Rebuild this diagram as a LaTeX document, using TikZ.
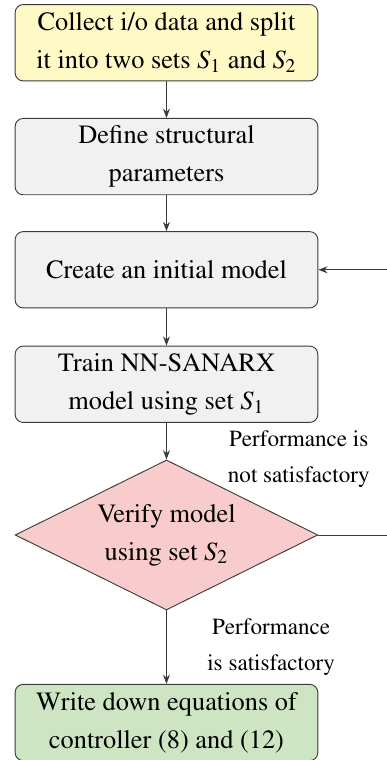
\documentclass[tikz,border=0pt]{standalone}
\usepackage[T1]{fontenc}
\usepackage{mathptmx}
\usetikzlibrary{shapes.geometric,arrows.meta}

\definecolor{startfill}{RGB}{255,249,198}
\definecolor{stepfill}{RGB}{241,241,241}
\definecolor{checkfill}{RGB}{248,204,204}
\definecolor{endfill}{RGB}{206,229,196}
\definecolor{edgegray}{RGB}{60,60,60}

\begin{document}
\begin{tikzpicture}[
    stepbox/.style={draw=edgegray, rounded corners=3.5pt, align=center,
        minimum width=4.6cm, minimum height=1.16cm, inner sep=2pt,
        font=\fontsize{11.4}{16.4}\selectfont},
    checkbox/.style={draw=edgegray, diamond, aspect=2, align=center,
        minimum width=4.6cm, minimum height=2.28cm, inner sep=0pt,
        fill=checkfill, font=\fontsize{11.4}{16.4}\selectfont},
    flow/.style={draw=edgegray, -{Stealth[length=4pt,width=3pt]}},
    note/.style={align=center, font=\fontsize{10}{15.6}\selectfont}
]
    \useasboundingbox (0,0) rectangle (5.87,-11.55);

    % Define the positions of the steps
    \coordinate (collectPos) at (2.53, -0.65);
    \coordinate (definePos) at (2.53, -2.38);
    \coordinate (createPos) at (2.53, -4.10);
    \coordinate (trainPos) at (2.53, -5.84);
    \coordinate (verifyPos) at (2.53, -8.13);
    \coordinate (writePos) at (2.53, -10.98);

    % Draw the steps
    \node[stepbox, fill=startfill] (collect) at (collectPos) {Collect i/o data and split\\it into two sets $S_1$ and $S_2$};
    \node[stepbox, fill=stepfill] (define) at (definePos) {Define structural\\parameters};
    \node[stepbox, fill=stepfill] (create) at (createPos) {Create an initial model};
    \node[stepbox, fill=stepfill] (train) at (trainPos) {Train NN-SANARX\\model using set $S_1$};
    \node[checkbox] (verify) at (verifyPos) {Verify model\\using set $S_2$};
    \node[stepbox, fill=endfill] (write) at (writePos) {Write down equations of\\controller (8) and (12)};

    % Draw the labels
    \node[note] (notok) at (4.54, -6.98) {Performance is\\not satisfactory};
    \node[note] (ok) at (4.12, -9.83) {Performance\\is satisfactory};

    % Draw the lines
    \draw[flow] (collect) -- (define);
    \draw[flow] (define) -- (create);
    \draw[flow] (create) -- (train);
    \draw[flow] (train) -- (verify);
    \draw[flow] (verify) -- (write);

    % Loop back (runs past the right edge)
    \coordinate (loopPos) at (6.3, 0);
    \draw[flow] (verify.east) -- (verify.east -| loopPos) -- (create.east -| loopPos) -- (create.east);

\end{tikzpicture}
\end{document}
